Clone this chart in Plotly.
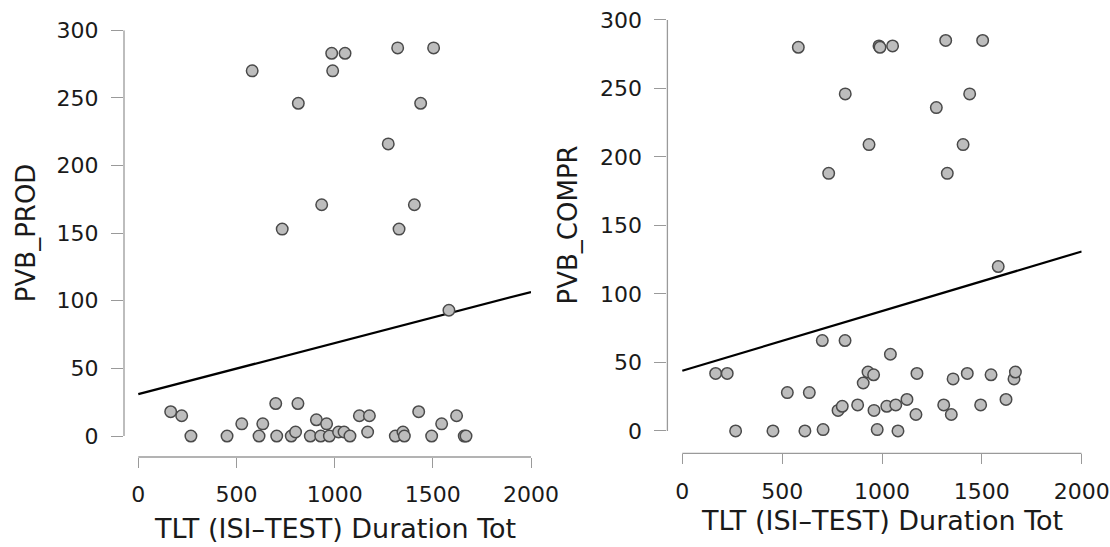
import plotly.graph_objects as go

# ---- data: left panel (PVB_PROD) ----
prod_x = [580, 985, 1053, 990, 1321, 1504, 815, 1438, 1273, 934, 1406, 733, 1328, 1582,
          165, 221, 268, 452, 527, 615, 634, 700, 705, 779, 801, 813, 876, 907, 929, 959,
          973, 1020, 1048, 1078, 1126, 1168, 1177, 1309, 1348, 1355, 1428, 1494, 1545,
          1621, 1660, 1669]
prod_y = [270, 283, 283, 270, 287, 287, 246, 246, 216, 171, 171, 153, 153, 93,
          18, 15, 0, 0, 9, 0, 9, 24, 0, 0, 3, 24, 0, 12, 0, 9,
          0, 3, 3, 0, 15, 3, 15, 0, 3, 0, 18, 0, 9,
          15, 0, 0]

# ---- data: right panel (PVB_COMPR) ----
compr_x = [581, 985, 990, 1053, 1319, 1504, 816, 1439, 1272, 935, 1406, 733, 1327, 1582,
           701, 815, 1042,
           167, 225, 267, 454, 526, 614, 636, 705, 780, 801, 878, 906, 930, 958, 960,
           976, 1024, 1069, 1080, 1125, 1170, 1175, 1309, 1347, 1356, 1427, 1494, 1546,
           1621, 1661, 1668]
compr_y = [280, 281, 280, 281, 285, 285, 246, 246, 236, 209, 209, 188, 188, 120,
           66, 66, 56,
           42, 42, 0, 0, 28, 0, 28, 1, 15, 18, 19, 35, 43, 41, 15,
           1, 18, 19, 0, 23, 12, 42, 19, 12, 38, 42, 19, 41,
           23, 38, 43]

# regression line end points
fit_x = [0, 2000]
prod_fit = [31, 106.5]
compr_fit = [44, 131]

x_ticks = [0, 500, 1000, 1500, 2000]
y_ticks = [0, 50, 100, 150, 200, 250, 300]
x_title = "TLT (ISI\u2013TEST) Duration Tot"
y_titles = ["PVB_PROD", "PVB_COMPR"]

FONT = "DejaVu Sans"
AX_COL = "#9a9a9a"
TXT_COL = "#1a1a1a"

fig = go.Figure()

marker = dict(size=11.5, color="#bdbdbd", line=dict(color="#4a4a4a", width=1.5))

fig.add_trace(go.Scatter(x=fit_x, y=prod_fit, mode="lines",
                         line=dict(color="black", width=2.2),
                         xaxis="x", yaxis="y", showlegend=False))
fig.add_trace(go.Scatter(x=prod_x, y=prod_y, mode="markers", marker=marker,
                         xaxis="x", yaxis="y", showlegend=False))
fig.add_trace(go.Scatter(x=fit_x, y=compr_fit, mode="lines",
                         line=dict(color="black", width=2.2),
                         xaxis="x2", yaxis="y2", showlegend=False))
fig.add_trace(go.Scatter(x=compr_x, y=compr_y, mode="markers", marker=marker,
                         xaxis="x2", yaxis="y2", showlegend=False))

W, H = 1110, 547


def xdom(a, b):
    return [a / W, b / W]


def ydom(bottom, top):
    return [(H - bottom) / H, (H - top) / H]


common_x = dict(tickvals=x_ticks, showgrid=False, zeroline=False, showline=False,
                ticks="outside", ticklen=10, tickwidth=1.3, tickcolor=AX_COL,
                tickfont=dict(family=FONT, size=22, color=TXT_COL),
                ticklabelstandoff=8, automargin=False, fixedrange=True)
common_y = dict(tickvals=y_ticks, showgrid=False, zeroline=False, showline=False,
                ticks="outside", ticklen=12, tickwidth=1.3, tickcolor=AX_COL,
                tickfont=dict(family=FONT, size=22, color=TXT_COL),
                ticklabelstandoff=8, automargin=False, fixedrange=True)

fig.update_layout(
    width=W, height=H,
    margin=dict(l=0, r=0, t=0, b=0),
    paper_bgcolor="white", plot_bgcolor="white",
    xaxis=dict(domain=xdom(124, 531), range=[-72.8, 2000], anchor="y", **common_x),
    yaxis=dict(domain=ydom(457, 30.3), range=[-15.5, 300], anchor="x", **common_y),
    xaxis2=dict(domain=xdom(667.4, 1081.7), range=[-74.6, 2000], anchor="y2", **common_x),
    yaxis2=dict(domain=ydom(453.3, 19.9), range=[-16.3, 300], anchor="x2", **common_y),
)

shapes = []
for xr, yr in [("x", "y"), ("x2", "y2")]:
    shapes.append(dict(type="line", xref=xr, yref=yr + " domain", x0=x_ticks[0], x1=x_ticks[-1],
                       y0=0, y1=0, line=dict(color=AX_COL, width=1.3), layer="below"))
    shapes.append(dict(type="line", xref=xr + " domain", yref=yr, x0=0, x1=0,
                       y0=y_ticks[0], y1=y_ticks[-1], line=dict(color=AX_COL, width=1.3), layer="below"))
fig.update_layout(shapes=shapes)

xt_font = dict(family=FONT, size=27, color=TXT_COL)
yt_font = dict(family=FONT, size=26, color=TXT_COL)
annotations = [
    dict(text=x_title, xref="x", yref="paper", x=1000, y=(H - 528) / H,
         xanchor="center", yanchor="middle", showarrow=False, font=xt_font),
    dict(text=x_title, xref="x2", yref="paper", x=1000, y=(H - 520) / H,
         xanchor="center", yanchor="middle", showarrow=False, font=xt_font),
    dict(text=y_titles[0], xref="paper", yref="y", x=26 / W, y=150, textangle=-90,
         xanchor="center", yanchor="middle", showarrow=False, font=yt_font),
    dict(text=y_titles[1], xref="paper", yref="y2", x=568 / W, y=150, textangle=-90,
         xanchor="center", yanchor="middle", showarrow=False, font=yt_font),
]
fig.update_layout(annotations=annotations)

fig.write_html("out.html")
